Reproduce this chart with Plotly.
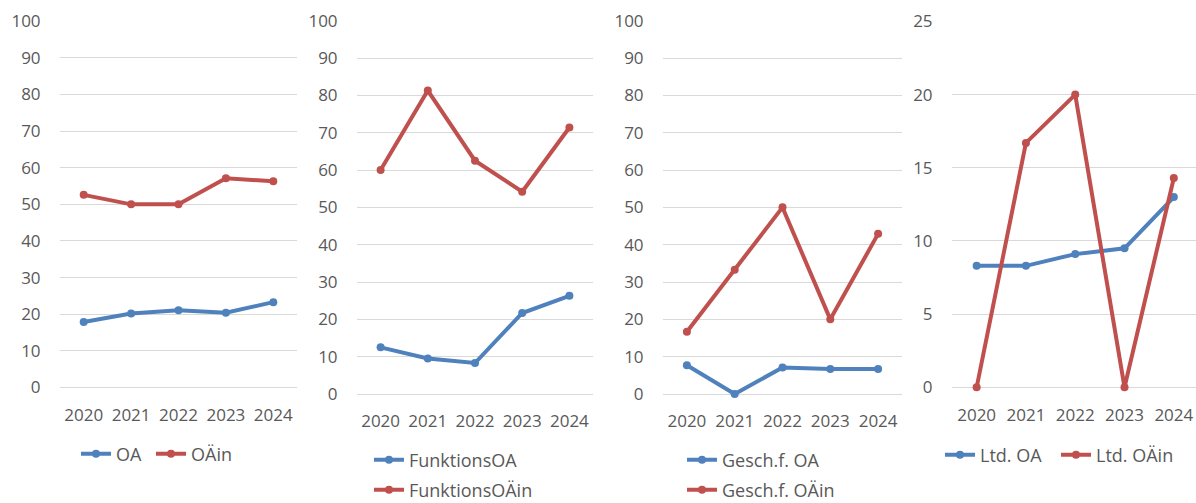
import plotly.graph_objects as go

# ---- data ----
years = ["2020", "2021", "2022", "2023", "2024"]

oa = [17.9, 20.2, 21.1, 20.4, 23.3]
oa_in = [52.6, 50.0, 50.0, 57.1, 56.3]

funktions_oa = [12.5, 9.5, 8.3, 21.7, 26.3]
funktions_oa_in = [60.0, 81.3, 62.5, 54.2, 71.4]

gesch_oa = [7.7, 0.0, 7.1, 6.7, 6.7]
gesch_oa_in = [16.7, 33.3, 50.0, 20.0, 42.9]

ltd_oa = [8.3, 8.3, 9.1, 9.5, 13.0]
ltd_oa_in = [0.0, 16.7, 20.0, 0.0, 14.3]

names = [("OA", "OÄin"), ("FunktionsOA", "FunktionsOÄin"),
         ("Gesch.f. OA", "Gesch.f. OÄin"), ("Ltd. OA", "Ltd. OÄin")]
series = [(oa, oa_in), (funktions_oa, funktions_oa_in),
          (gesch_oa, gesch_oa_in), (ltd_oa, ltd_oa_in)]

# ---- layout helpers ----
W, H = 1196, 503
BLUE = "#4F81BD"
RED = "#C0504D"
TXT = "#595959"
GRID = "#D9D9D9"
FONT = "Open Sans"
FS = 17
LFS = 18

def fx(px):
    return px / W

def fy(py):
    return 1 - py / H

# plot areas in page pixels: (x0, x1, ytop, ybottom)
areas = [(60, 297, 20.5, 387.5), (357, 593, 20, 394), (663, 902, 20, 394), (952, 1196, 20.7, 387.3)]
yranges = [(0, 100.2, 10), (0, 100.2, 10), (0, 100.2, 10), (0, 25.05, 5)]
xranges = [(-0.5, 4.5), (-0.5, 4.5), (-0.5, 4.5), (-0.5, 4.45)]
# legend entry anchors (line start x, row centre y) per series
legend_pos = [((76, 454), (151, 454)),
              ((369, 460), (369, 490)),
              ((682, 460), (682, 490)),
              ((940, 455), (1056, 455))]

fig = go.Figure()
leg_layout = {}
k = 0
for i in range(4):
    xa = "x" if i == 0 else f"x{i+1}"
    ya = "y" if i == 0 else f"y{i+1}"
    for j, (vals, col) in enumerate(zip(series[i], (BLUE, RED))):
        k += 1
        lname = "legend" if k == 1 else f"legend{k}"
        fig.add_trace(go.Scatter(
            x=years, y=vals, name=names[i][j], mode="lines+markers",
            line=dict(color=col, width=4),
            marker=dict(color=col, size=8), cliponaxis=False,
            xaxis=xa, yaxis=ya, legend=lname, showlegend=True,
        ))
        lx, ly = legend_pos[i][j]
        leg_layout[lname] = dict(
            font=dict(family=FONT, size=LFS, color=TXT),
            bgcolor="rgba(0,0,0,0)", xref="paper", yref="paper",
            xanchor="left", yanchor="middle", x=fx(lx), y=fy(ly),
            orientation="h", itemclick=False, itemdoubleclick=False)
    x0, x1, yt, yb = areas[i]
    r0, r1, dt = yranges[i]
    xkey = "xaxis" if i == 0 else f"xaxis{i+1}"
    ykey = "yaxis" if i == 0 else f"yaxis{i+1}"
    fig.update_layout(**{
        xkey: dict(domain=[fx(x0), fx(x1)], anchor=ya, type="category",
                   range=list(xranges[i]), showgrid=False, zeroline=False,
                   showline=False, ticks="outside", ticklen=12,
                   tickcolor="rgba(0,0,0,0)", automargin=False,
                   tickfont=dict(family=FONT, size=FS, color=TXT)),
        ykey: dict(domain=[fy(yb), fy(yt)], anchor=xa, range=[r0, r1],
                   dtick=dt, tick0=0, showgrid=True, gridcolor=GRID,
                   gridwidth=1, zeroline=True, zerolinecolor=GRID,
                   zerolinewidth=1, showline=False, ticks="outside",
                   ticklen=15, tickcolor="rgba(0,0,0,0)", automargin=False,
                   tickfont=dict(family=FONT, size=FS, color=TXT)),
    })

fig.update_layout(**leg_layout)
fig.update_layout(
    showlegend=True,
    width=W, height=H,
    margin=dict(l=0, r=0, t=0, b=0, autoexpand=False),
    paper_bgcolor="white", plot_bgcolor="white",
    font=dict(family=FONT, size=FS, color=TXT),
)

fig.write_html(
    "out.html",
    config={"displayModeBar": False},
    post_script="document.body.style.margin='0';"
                "document.documentElement.style.overflow='hidden';",
)
